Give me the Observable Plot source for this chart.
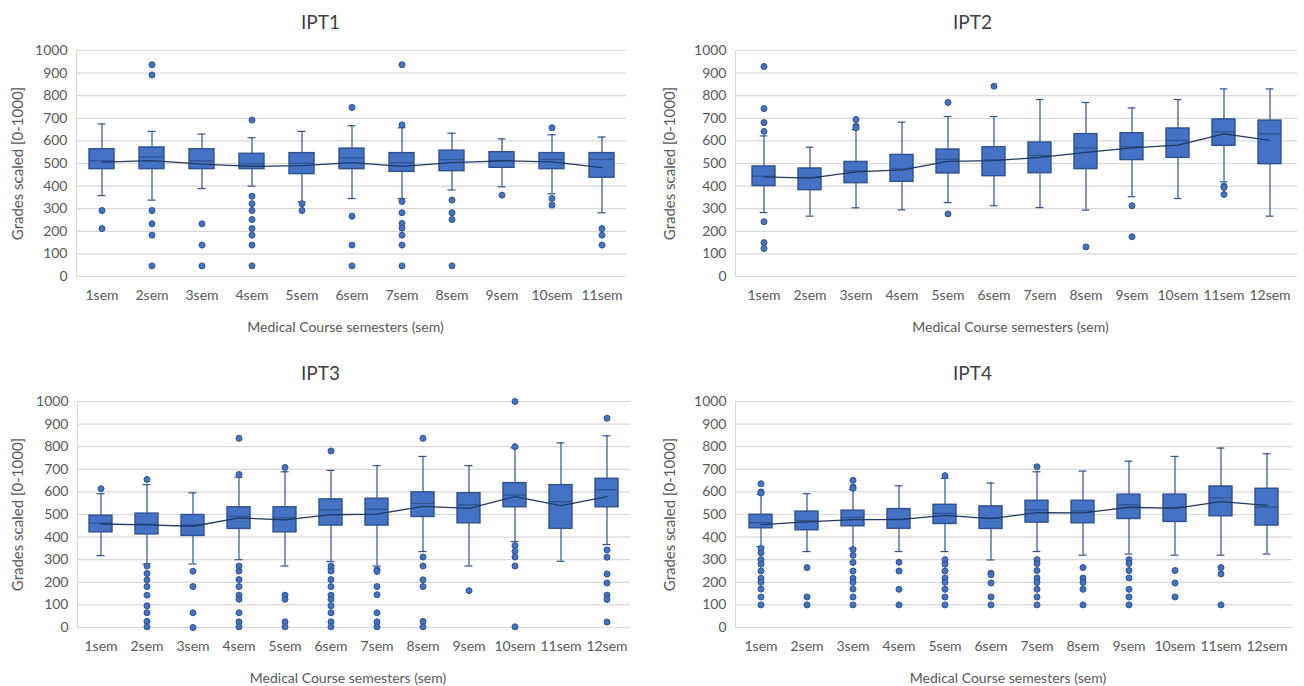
<!DOCTYPE html>
<html>
<head>
<meta charset="utf-8">
<script src="https://cdn.jsdelivr.net/npm/d3@7"></script>
<script src="https://cdn.jsdelivr.net/npm/@observablehq/plot@0.6"></script>
<style>
  html, body { margin: 0; padding: 0; background: #fff; }
  #chart { position: relative; width: 1304px; height: 686px; overflow: hidden; background: #fff; }
  .panel { position: absolute; }
</style>
</head>
<body>
<div id="chart"></div>
<script>
// ---------- shared labels ----------
const yTicks = [0, 100, 200, 300, 400, 500, 600, 700, 800, 900, 1000];
const xTitle = "Medical Course semesters (sem)";
const yTitle = "Grades scaled [0-1000]";

// ---------- IPT1 ----------
const ipt1Sem  = ["1sem","2sem","3sem","4sem","5sem","6sem","7sem","8sem","9sem","10sem","11sem"];
const ipt1Low  = [358, 338, 389, 400, 330, 345, 345, 383, 397, 366, 282];
const ipt1Q1   = [475, 475, 475, 475, 453, 475, 463, 466, 481, 475, 437];
const ipt1Med  = [512, 529, 512, 498, 501, 525, 503, 518, 513, 518, 519];
const ipt1Q3   = [563, 571, 563, 543, 546, 566, 546, 557, 550, 546, 546];
const ipt1High = [675, 642, 630, 614, 642, 667, 658, 634, 609, 627, 617];
const ipt1Mean = [506, 513, 497, 487, 491, 504, 487, 504, 512, 507, 482];
const ipt1Out  = [
  [292, 212],
  [937, 892, 292, 233, 183, 47],
  [233, 139, 47],
  [692, 355, 322, 292, 252, 212, 183, 139, 47],
  [322, 292],
  [748, 267, 139, 47],
  [937, 671, 332, 282, 235, 214, 183, 139, 47],
  [338, 282, 252, 47],
  [360],
  [658, 345, 316],
  [212, 183, 139]
];

// ---------- IPT2 ----------
const ipt2Sem  = ["1sem","2sem","3sem","4sem","5sem","6sem","7sem","8sem","9sem","10sem","11sem","12sem"];
const ipt2Low  = [283, 267, 304, 295, 327, 313, 305, 294, 353, 345, 419, 267];
const ipt2Q1   = [400, 382, 413, 419, 456, 444, 457, 475, 515, 525, 578, 497];
const ipt2Med  = [444, 438, 468, 476, 519, 516, 535, 569, 574, 602, 640, 631];
const ipt2Q3   = [487, 478, 507, 538, 562, 572, 593, 630, 634, 655, 695, 690];
const ipt2High = [622, 572, 650, 683, 708, 708, 783, 770, 746, 783, 830, 830];
const ipt2Mean = [441, 435, 463, 472, 509, 513, 527, 549, 569, 581, 631, 602];
const ipt2Out  = [
  [929, 743, 681, 642, 242, 150, 124],
  [],
  [695, 665, 658],
  [],
  [770, 277],
  [842],
  [],
  [131],
  [313, 176],
  [],
  [400, 394, 363],
  []
];

// ---------- IPT3 ----------
const ipt3Sem  = ["1sem","2sem","3sem","4sem","5sem","6sem","7sem","8sem","9sem","10sem","11sem","12sem"];
const ipt3Low  = [318, 281, 281, 300, 272, 292, 272, 336, 272, 380, 293, 367];
const ipt3Q1   = [421, 412, 405, 436, 421, 451, 451, 489, 461, 532, 437, 532];
const ipt3Med  = [462, 457, 454, 492, 485, 521, 523, 549, 543, 586, 557, 610];
const ipt3Q3   = [495, 504, 498, 532, 532, 567, 570, 598, 594, 639, 630, 658];
const ipt3High = [592, 632, 596, 665, 689, 695, 716, 757, 716, 795, 817, 848];
const ipt3Mean = [458, 454, 448, 485, 476, 499, 502, 536, 527, 579, 539, 579];
const ipt3Out  = [
  [614],
  [655, 272, 239, 211, 181, 143, 96, 65, 27, 3],
  [249, 181, 65, 0],
  [837, 677, 272, 250, 212, 181, 143, 125, 65, 25, 3],
  [708, 143, 125, 25, 3],
  [781, 272, 260, 250, 212, 181, 143, 125, 96, 65, 25, 3],
  [255, 248, 181, 145, 65, 25, 3],
  [837, 312, 272, 211, 181, 27, 3],
  [163],
  [1000, 800, 362, 337, 312, 272, 3],
  [],
  [926, 343, 311, 237, 197, 143, 124, 24]
];

// ---------- IPT4 ----------
const ipt4Sem  = ["1sem","2sem","3sem","4sem","5sem","6sem","7sem","8sem","9sem","10sem","11sem","12sem"];
const ipt4Low  = [358, 336, 350, 336, 336, 299, 336, 320, 325, 320, 320, 325];
const ipt4Q1   = [439, 430, 448, 437, 458, 436, 464, 461, 480, 467, 492, 451];
const ipt4Med  = [464, 473, 487, 480, 505, 485, 521, 516, 543, 532, 574, 533];
const ipt4Q3   = [499, 513, 517, 524, 543, 536, 561, 561, 588, 588, 624, 614];
const ipt4High = [589, 592, 610, 627, 660, 639, 689, 692, 736, 757, 794, 769];
const ipt4Mean = [455, 467, 477, 477, 496, 482, 508, 507, 532, 527, 557, 540];
const ipt4Out  = [
  [636, 600, 595, 350, 330, 300, 280, 250, 218, 200, 170, 135, 100],
  [265, 135, 100],
  [651, 622, 616, 345, 320, 288, 250, 218, 200, 170, 135, 100],
  [289, 250, 169, 100],
  [672, 300, 280, 250, 219, 200, 169, 135, 100],
  [240, 234, 197, 135, 100],
  [711, 300, 283, 252, 219, 199, 169, 135, 100],
  [265, 219, 199, 169, 100],
  [300, 283, 252, 219, 169, 135, 100],
  [252, 197, 135],
  [265, 237, 100],
  []
];

// ---------- panel layout ----------
const panels = [
  {title: "IPT1", sem: ipt1Sem, low: ipt1Low, q1: ipt1Q1, med: ipt1Med, q3: ipt1Q3, high: ipt1High, mean: ipt1Mean, out: ipt1Out,
   left: 0, top: 0, ml: 76, mr: 26},
  {title: "IPT2", sem: ipt2Sem, low: ipt2Low, q1: ipt2Q1, med: ipt2Med, q3: ipt2Q3, high: ipt2High, mean: ipt2Mean, out: ipt2Out,
   left: 652, top: 0, ml: 83, mr: 7},
  {title: "IPT3", sem: ipt3Sem, low: ipt3Low, q1: ipt3Q1, med: ipt3Med, q3: ipt3Q3, high: ipt3High, mean: ipt3Mean, out: ipt3Out,
   left: 0, top: 351, ml: 77, mr: 22},
  {title: "IPT4", sem: ipt4Sem, low: ipt4Low, q1: ipt4Q1, med: ipt4Med, q3: ipt4Q3, high: ipt4High, mean: ipt4Mean, out: ipt4Out,
   left: 652, top: 351, ml: 83, mr: 12}
];

const W = 652, H = 335, MT = 50, MB = 59;
const boxFill = "#4472C4", boxStroke = "#2F528F", meanStroke = "#1F3864", grid = "#D9D9D9", textCol = "#595959";
const font = "Lato, 'Open Sans', sans-serif";

function makePanel(p) {
  const rows = p.sem.map((s, i) => ({sem: s, low: p.low[i], q1: p.q1[i], med: p.med[i], q3: p.q3[i], high: p.high[i], mean: p.mean[i]}));
  const outs = p.sem.flatMap((s, i) => p.out[i].map(v => ({sem: s, v})));
  const bw = (W - p.ml - p.mr) / p.sem.length * 0.5;
  const capInset = Math.max(0, (bw - 8) / 2);
  const plotCx = p.ml + (W - p.ml - p.mr) / 2;
  const leftLine = (index, scales, values, dim) => {
    const l = document.createElementNS("http://www.w3.org/2000/svg", "line");
    l.setAttribute("x1", dim.marginLeft + 0.5);
    l.setAttribute("x2", dim.marginLeft + 0.5);
    l.setAttribute("y1", dim.marginTop);
    l.setAttribute("y2", dim.height - dim.marginBottom);
    l.setAttribute("stroke", grid);
    return l;
  };
  return Plot.plot({
    width: W, height: H,
    marginLeft: p.ml, marginRight: p.mr, marginTop: MT, marginBottom: MB,
    style: {fontFamily: font, fontSize: "14px", color: textCol, background: "white", overflow: "visible"},
    x: {type: "band", domain: p.sem, paddingInner: 0.5, paddingOuter: 0.25, tickSize: 0, tickPadding: 14, label: null},
    y: {domain: [0, 1000], ticks: 10, tickSize: 0, tickPadding: 9, tickFormat: d => String(d), label: null},
    marks: [
      Plot.ruleY(yTicks, {stroke: grid, strokeWidth: 1.2}),
      leftLine,
      Plot.ruleX(rows, {x: "sem", y1: "low", y2: "high", stroke: boxStroke, strokeWidth: 1.2}),
      Plot.tickY(rows, {x: "sem", y: "low", stroke: boxStroke, strokeWidth: 1.2, insetLeft: capInset, insetRight: capInset}),
      Plot.tickY(rows, {x: "sem", y: "high", stroke: boxStroke, strokeWidth: 1.2, insetLeft: capInset, insetRight: capInset}),
      Plot.barY(rows, {x: "sem", y1: "q1", y2: "q3", fill: boxFill, stroke: boxStroke, strokeWidth: 1.4}),
      Plot.tickY(rows, {x: "sem", y: "med", stroke: boxStroke, strokeWidth: 1.2}),
      Plot.line(rows, {x: "sem", y: "mean", stroke: meanStroke, strokeWidth: 1.3}),
      Plot.dot(outs, {x: "sem", y: "v", r: 3, fill: boxFill, stroke: boxStroke, strokeWidth: 1}),
      Plot.text([p.title], {text: d => d, frameAnchor: "top", dy: -28, dx: (W / 2 - 6) - plotCx, textAnchor: "middle", lineAnchor: "middle", fontSize: 19, fill: "#404040"}),
      Plot.text([xTitle], {text: d => d, frameAnchor: "bottom", dy: 51, dx: -6, textAnchor: "middle", lineAnchor: "middle", fontSize: 14, fill: textCol}),
      Plot.text([yTitle], {text: d => d, frameAnchor: "left", dx: 18 - p.ml, rotate: -90, textAnchor: "middle", lineAnchor: "middle", fontSize: 15, fill: textCol})
    ]
  });
}

const chart = document.getElementById("chart");
for (const p of panels) {
  const div = document.createElement("div");
  div.className = "panel";
  div.style.left = p.left + "px";
  div.style.top = p.top + "px";
  div.appendChild(makePanel(p));
  chart.appendChild(div);
}
</script>
</body>
</html>
